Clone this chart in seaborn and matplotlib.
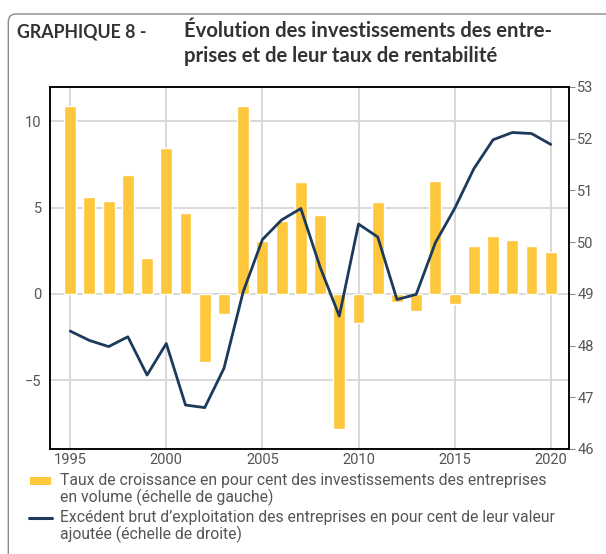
import numpy as np
import pandas as pd
import matplotlib
matplotlib.use("Agg")
import matplotlib.pyplot as plt
import seaborn as sns
from matplotlib.patches import FancyBboxPatch, Rectangle
from matplotlib.lines import Line2D

# ==============================
# DONNÉES
# ==============================

annees = list(range(1995, 2021))

# Taux de croissance des investissements (échelle de gauche)
invest = [10.9, 5.6, 5.4, 6.9, 2.1, 8.45, 4.7, -3.95, -1.15, 10.9,
          3.05, 4.25, 6.5, 4.6, -7.85, -1.7, 5.35, -0.45, -1.0, 6.55,
          -0.6, 2.8, 3.35, 3.15, 2.75, 2.45]

# EBE en % de la valeur ajoutée (échelle de droite)
ebe = [48.28, 48.10, 47.98, 48.17, 47.43, 48.04, 46.85, 46.80, 47.56, 49.04,
       50.05, 50.43, 50.65, 49.52, 48.57, 50.35, 50.10, 48.89, 48.99, 49.99,
       50.65, 51.42, 51.98, 52.12, 52.10, 51.89]

ticks_x = [1995, 2000, 2005, 2010, 2015, 2020]
ticks_gauche = [-5, 0, 5, 10]
ticks_droite = [46, 47, 48, 49, 50, 51, 52, 53]

titre_num = "GRAPHIQUE 8 -"
titre = ["Évolution des investissements des entre-",
         "prises et de leur taux de rentabilité"]
legende_barres = ["Taux de croissance en pour cent des investissements des entreprises",
                  "en volume (échelle de gauche)"]
legende_ligne = ["Excédent brut d\u2019exploitation des entreprises en pour cent de leur valeur",
                 "ajoutée (échelle de droite)"]

# ==============================
# STYLE
# ==============================

JAUNE = "#FFC73B"
BLEU = "#1C3A5B"
GRIS_TXT = "#555555"
GRILLE = "#D9D9D9"

sns.set_style("white")
plt.rcParams["font.family"] = ["Roboto", "DejaVu Sans"]

df = pd.DataFrame({"annee": annees, "invest": invest, "ebe": ebe})

fig = plt.figure(figsize=(6.06, 5.54), dpi=100)
ax = fig.add_axes([50 / 606, 1 - 449 / 554, 519 / 606, 362 / 554])

# cadre arrondi
cadre = FancyBboxPatch((0.083, -1.0), 7.0, 5.40 + 1.0,
                       boxstyle="round,pad=0,rounding_size=0.08",
                       transform=fig.dpi_scale_trans, facecolor="none",
                       edgecolor="#8A8A8A", linewidth=1.0, zorder=0)
fig.patches.append(cadre)

# barres
sns.barplot(data=df, x="annee", y="invest", native_scale=True, width=0.62,
            color=JAUNE, saturation=1, errorbar=None, ax=ax, zorder=2)

ax.set_xlim(1993.95, 2020.95)
ax.set_ylim(-9, 12)
ax.set_xticks(ticks_x)
ax.set_yticks(ticks_gauche)
ax.set_axisbelow(True)
ax.grid(True, color=GRILLE, linewidth=1.4)
ax.set_xlabel("")
ax.set_ylabel("")
ax.tick_params(axis="both", length=0, labelsize=10.5, labelcolor=GRIS_TXT)
ax.tick_params(axis="y", pad=6)
ax.tick_params(axis="x", pad=3)

# ligne sur l'axe de droite
ax2 = ax.twinx()
sns.lineplot(data=df, x="annee", y="ebe", color=BLEU, linewidth=2.0, ax=ax2)
ax2.set_ylim(46, 53)
ax2.set_yticks(ticks_droite)
ax2.set_ylabel("")
ax2.set_xlim(1993.95, 2020.95)
ax2.tick_params(axis="y", length=4, width=0.8, color="#888888", pad=2,
                labelsize=10.5, labelcolor=GRIS_TXT)
ax2.grid(False)

for a in (ax, ax2):
    for s in a.spines.values():
        s.set_visible(True)
        s.set_color("black")
        s.set_linewidth(1.1)

# titre
police_titre = ["Lato", "DejaVu Sans"]
fig.text(17 / 606, 1 - 37 / 554, titre_num, fontsize=12.8, fontweight="bold",
         color="#333333", family=police_titre, va="baseline")
fig.text(184 / 606, 1 - 37 / 554, titre[0], fontsize=14.6, fontweight="bold",
         color="#333333", family=police_titre, va="baseline")
fig.text(184 / 606, 1 - 62 / 554, titre[1], fontsize=14.6, fontweight="bold",
         color="#333333", family=police_titre, va="baseline")

# légende
fig.patches.append(Rectangle((30 / 606, 1 - 485 / 554), 21 / 606, 8 / 554,
                             transform=fig.transFigure, facecolor=JAUNE,
                             edgecolor="none"))
fig.lines.append(Line2D([29 / 606, 52 / 606], [1 - 518 / 554] * 2,
                        transform=fig.transFigure, color=BLEU, linewidth=2.2))
for txt, yb in zip(legende_barres + legende_ligne, [485, 502, 522, 539]):
    fig.text(60 / 606, 1 - yb / 554, txt, fontsize=11.3, color=GRIS_TXT,
             va="baseline")

fig.savefig("out.png", dpi=100)
